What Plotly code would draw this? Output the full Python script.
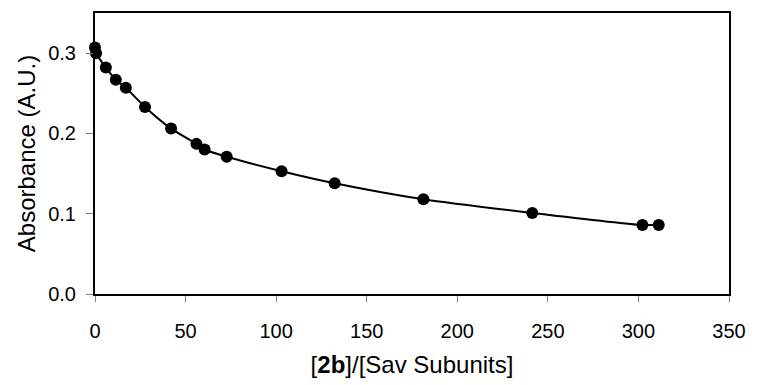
import plotly.graph_objects as go

ratio = [0.0, 0.6, 6.0, 11.5, 17.0, 27.6, 42.0, 56.0, 60.5, 72.7, 103.0, 132.3, 181.3, 241.4, 302.2, 311.2]
absorbance = [0.307, 0.300, 0.282, 0.267, 0.257, 0.233, 0.206, 0.187, 0.180, 0.171, 0.153, 0.138, 0.118, 0.101, 0.086, 0.086]

x_ticks = [0, 50, 100, 150, 200, 250, 300, 350]
y_ticks = [0.0, 0.1, 0.2, 0.3]

fig = go.Figure()
fig.add_trace(go.Scatter(
    x=ratio, y=absorbance, mode="lines+markers",
    line=dict(color="black", width=2, shape="spline", smoothing=0.6),
    marker=dict(color="black", size=12),
    cliponaxis=False, showlegend=False,
))

font = dict(family="Liberation Sans, Arial, sans-serif", size=20, color="black")
fig.update_layout(
    width=757, height=385,
    margin=dict(l=95, r=20, t=11, b=87),
    paper_bgcolor="white", plot_bgcolor="white",
    font=font,
    xaxis=dict(
        range=[0, 350], tickvals=x_ticks, ticktext=[str(v) for v in x_ticks],
        showline=True, linecolor="black", linewidth=2, mirror=True,
        ticks="outside", ticklen=6, tickcolor="#808080", tickwidth=1,
        ticklabelstandoff=12,
        showgrid=False, zeroline=False,
        title=dict(text="[<b>2b</b>]/[Sav Subunits]", standoff=15),
    ),
    yaxis=dict(
        range=[0, 0.35], tickvals=y_ticks, ticktext=[f"{v:.1f}" for v in y_ticks],
        showline=True, linecolor="black", linewidth=2, mirror=True,
        ticks="outside", ticklen=7, tickcolor="#808080", tickwidth=1,
        ticklabelstandoff=6,
        showgrid=False, zeroline=False,
        title=dict(text="Absorbance (A.U.)", standoff=6),
    ),
)

fig.write_html("out.html")
